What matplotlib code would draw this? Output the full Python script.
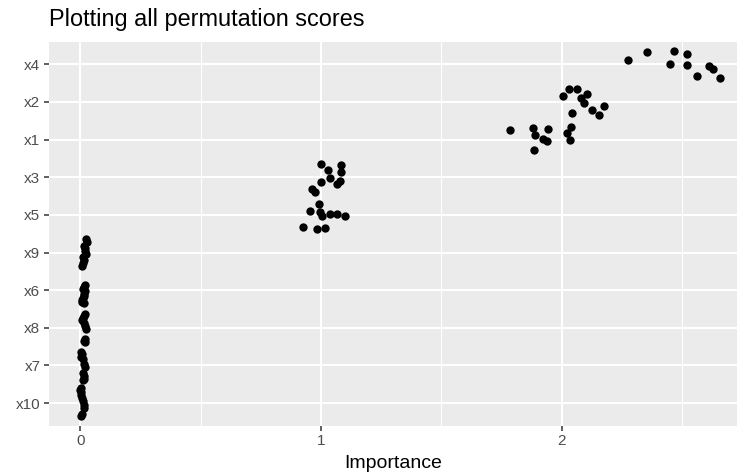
import numpy as np
import matplotlib
matplotlib.use("Agg")
import matplotlib.pyplot as plt

plt.rcParams['font.family'] = ['Liberation Sans', 'DejaVu Sans']

# 变量顺序（从上到下）
variables = ["x4", "x2", "x1", "x3", "x5", "x9", "x6", "x8", "x7", "x10"]

# 每个变量的置换重要性（每次置换一个值）
imp_x4 = [2.275, 2.354, 2.469, 2.520, 2.451, 2.520, 2.562, 2.614, 2.631, 2.659]
imp_x2 = [2.007, 2.031, 2.063, 2.080, 2.094, 2.105, 2.045, 2.128, 2.157, 2.177]
imp_x1 = [1.786, 1.883, 1.890, 1.944, 1.924, 1.938, 1.887, 2.039, 2.024, 2.035]
imp_x3 = [1.000, 1.031, 1.084, 1.084, 1.002, 1.038, 1.066, 1.079, 0.964, 0.975]
imp_x5 = [0.993, 0.955, 0.996, 1.005, 1.038, 1.067, 1.100, 0.927, 0.985, 1.017]
imp_x9 = [0.0237, 0.0278, 0.0154, 0.0195, 0.0195, 0.0237, 0.0112, 0.0154, 0.0112, 0.0071]
imp_x6 = [0.0195, 0.0154, 0.0112, 0.0195, 0.0154, 0.0154, 0.0112, 0.0071, 0.0071, 0.0154]
imp_x8 = [0.0195, 0.0154, 0.0112, 0.0071, 0.0154, 0.0195, 0.0237, 0.0195, 0.0154, 0.0195]
imp_x7 = [0.0029, 0.0071, 0.0029, 0.0112, 0.0154, 0.0195, 0.0112, 0.0154, 0.0154, 0.0112]
imp_x10 = [0.0029, -0.0012, 0.0029, 0.0029, 0.0071, 0.0112, 0.0154, 0.0154, 0.0071, 0.0029]

# geom_jitter 的纵向抖动（从图上读出来的）
jit_x4 = [0.106, 0.334, 0.353, 0.281, 0.016, -0.019, -0.310, -0.045, -0.133, -0.355]
jit_x2 = [0.159, 0.337, 0.353, 0.098, -0.019, 0.220, -0.284, -0.220, -0.353, -0.114]
jit_x1 = [0.249, 0.318, 0.117, 0.271, 0.027, -0.034, -0.281, 0.337, 0.170, -0.008]
jit_x3 = [0.347, 0.196, 0.329, 0.151, -0.114, -0.008, -0.167, -0.095, -0.300, -0.387]
jit_x5 = [0.302, 0.109, 0.064, -0.024, 0.021, 0.029, -0.042, -0.334, -0.377, -0.361]
jit_x9 = [0.366, 0.286, 0.180, 0.127, 0.048, -0.032, -0.111, -0.191, -0.271, -0.350]
jit_x6 = [0.146, 0.093, 0.040, -0.013, -0.093, -0.146, -0.199, -0.252, -0.305, -0.332]
jit_x8 = [0.377, 0.324, 0.271, 0.218, 0.138, 0.058, -0.021, -0.286, -0.340, -0.366]
jit_x7 = [0.369, 0.316, 0.236, 0.183, 0.050, -0.029, -0.188, -0.268, -0.347, -0.374]
jit_x10 = [0.390, 0.361, 0.308, 0.228, 0.149, 0.069, -0.037, -0.143, -0.276, -0.355]

importance = [imp_x4, imp_x2, imp_x1, imp_x3, imp_x5, imp_x9, imp_x6, imp_x8, imp_x7, imp_x10]
jitter = [jit_x4, jit_x2, jit_x1, jit_x3, jit_x5, jit_x9, jit_x6, jit_x8, jit_x7, jit_x10]

W, H = 744, 475
fig = plt.figure(figsize=(W / 100, H / 100), dpi=100)
left, right, top, bottom = 48.7, 737.0, 41.7, 425.7
ax = fig.add_axes([left / W, 1 - bottom / H, (right - left) / W, (bottom - top) / H])
ax.set_facecolor("#EBEBEB")

n = len(variables)
for i, var in enumerate(variables):
    ypos = n - i
    ys = ypos + np.array(jitter[i])
    ax.scatter(importance[i], ys, s=36, color="black", linewidths=0, zorder=3)

ax.set_xlim(-0.131, 2.729)
ax.set_ylim(0.4, n + 0.6)
ax.set_xticks([0, 1, 2])
ax.set_xticks([0.5, 1.5, 2.5], minor=True)
ax.set_yticks(np.arange(n, 0, -1))
ax.set_yticklabels(variables)

ax.grid(True, which="major", color="white", linewidth=1.5)
ax.grid(True, which="minor", axis="x", color="white", linewidth=0.75)
ax.set_axisbelow(True)
for sp in ax.spines.values():
    sp.set_visible(False)

ax.tick_params(which="major", length=3.5, width=1.1, color="#333333",
               labelcolor="#4D4D4D", labelsize=11, pad=2.5)
ax.tick_params(which="minor", length=0)

ax.set_xlabel("Importance", fontsize=14, color="black", labelpad=5)
fig.text(left / W, 1 - 26 / H, "Plotting all permutation scores",
         fontsize=16.9, color="black", ha="left", va="baseline")

fig.savefig("out.png", dpi=100)
